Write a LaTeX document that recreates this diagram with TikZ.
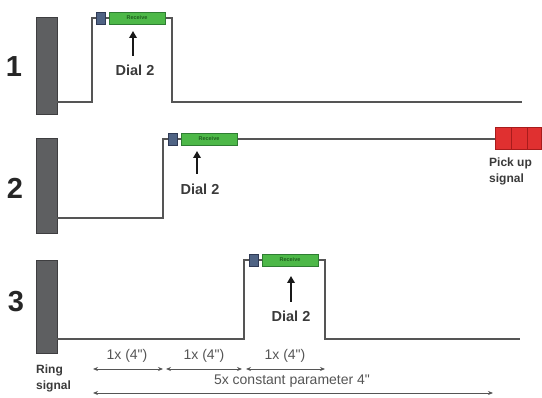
\documentclass[tikz,border=0pt]{standalone}
\usepackage{fontspec}
\setmainfont{Liberation Sans}
\newfontfamily\dimfont{Liberation Sans}
\usetikzlibrary{arrows.meta}
\definecolor{tracec}{HTML}{555555}
\definecolor{barfill}{HTML}{5E5F61}
\definecolor{barline}{HTML}{3E3E40}
\definecolor{rfill}{HTML}{4DB848}
\definecolor{rline}{HTML}{2E7D32}
\definecolor{rtext}{HTML}{1E5E1E}
\definecolor{sqfill}{HTML}{4F6384}
\definecolor{sqline}{HTML}{2F3A55}
\definecolor{redfill}{HTML}{E03030}
\definecolor{redline}{HTML}{A81C1C}
\definecolor{txt}{HTML}{3A3A3A}
\definecolor{dimc}{HTML}{555555}
\begin{document}
\begin{tikzpicture}[x=1pt,y=-1pt,
  trace/.style={draw=tracec, line width=1.3pt},
  ringbar/.style={fill=barfill, draw=barline, line width=0.6pt},
  recv/.style={draw=rline, fill=rfill, line width=0.6pt, minimum width=56pt, minimum height=12pt, inner sep=0pt,
    font=\fontsize{5.5}{5.5}\selectfont\bfseries, text=rtext},
  sq/.style={draw=sqline, fill=sqfill, line width=0.6pt, minimum width=9pt, minimum height=12pt, inner sep=0pt},
  redseg/.style={draw=redline, fill=redfill, line width=0.8pt},
  num/.style={font=\fontsize{29}{29}\selectfont\bfseries, text=black!85, inner sep=0pt},
  dial/.style={font=\fontsize{14.5}{14.5}\selectfont\bfseries, text=txt, inner sep=0pt},
  lbl/.style={font=\fontsize{12}{16}\selectfont\bfseries, text=txt, align=left, inner sep=0pt},
  dimtxt/.style={font=\dimfont\fontsize{14}{14}\selectfont, text=dimc, inner sep=0pt},
  dimarrow/.style={draw=dimc, line width=0.8pt, {Stealth[length=5pt,width=4pt]}-{Stealth[length=5pt,width=4pt]}},
  dialarrow/.style={draw=black!90, line width=2.2pt, -{Triangle[length=7pt,width=7.5pt]}}
]
\useasboundingbox (0,0) rectangle (542,398);

% ---- Row 1 ----
\draw[ringbar] (36,17) rectangle (57,114);
\node[num] (n1) at (14,67) {1};
\draw[trace] (57,102) -| (92,18) -- (172,18) |- (522,102);
\node[sq] (s1) at (100.5,18) {};
\node[recv] (r1) at (137,18) {Receive};
\coordinate (a1s) at (133,56);
\coordinate (a1e) at (133,31);
\draw[dialarrow] (a1s) -- (a1e);
\node[dial] (d1) at (135,70) {Dial 2};

% ---- Row 2 ----
\draw[ringbar] (36,138) rectangle (57,233);
\node[num] (n2) at (15,188) {2};
\draw[trace] (57,218) -| (163,139) -- (495,139);
\node[sq] (s2) at (172.5,139) {};
\node[recv] (r2) at (209,139) {Receive};
\coordinate (a2s) at (197,174);
\coordinate (a2e) at (197,151);
\draw[dialarrow] (a2s) -- (a2e);
\node[dial] (d2) at (200,189) {Dial 2};
\draw[redseg] (495,127) rectangle (511,149);
\draw[redseg] (511,127) rectangle (527,149);
\draw[redseg] (527,127) rectangle (541.6,149);
\node[lbl, anchor=north west] (pk) at (489,158) {Pick up\\signal};

% ---- Row 3 ----
\draw[ringbar] (36,260) rectangle (57,353);
\node[num] (n3) at (16,302) {3};
\draw[trace] (57,339) -| (244,260) -- (325,260) |- (520,339);
\node[sq] (s3) at (253.5,260) {};
\node[recv] (r3) at (290,260) {Receive};
\coordinate (a3s) at (291,302);
\coordinate (a3e) at (291,276);
\draw[dialarrow] (a3s) -- (a3e);
\node[dial] (d3) at (291,316) {Dial 2};

% ---- Bottom dimensions ----
\node[lbl, anchor=north west] (ring) at (36,365) {Ring\\signal};
\coordinate (p0) at (93,369);
\coordinate (p1a) at (163,369);
\coordinate (p1b) at (166,369);
\coordinate (p2a) at (242,369);
\coordinate (p2b) at (246,369);
\coordinate (p3) at (325,369);
\draw[dimarrow] (p0) -- (p1a);
\draw[dimarrow] (p1b) -- (p2a);
\draw[dimarrow] (p2b) -- (p3);
\node[dimtxt] (t1) at (127,356) {1x (4")};
\node[dimtxt] (t2) at (204,356) {1x (4")};
\node[dimtxt] (t3) at (285,356) {1x (4")};
\coordinate (q0) at (93,393);
\coordinate (q1) at (493,393);
\draw[dimarrow] (q0) -- (q1);
\node[dimtxt] (t4) at (292,381) {5x constant parameter 4"};
\end{tikzpicture}
\end{document}
